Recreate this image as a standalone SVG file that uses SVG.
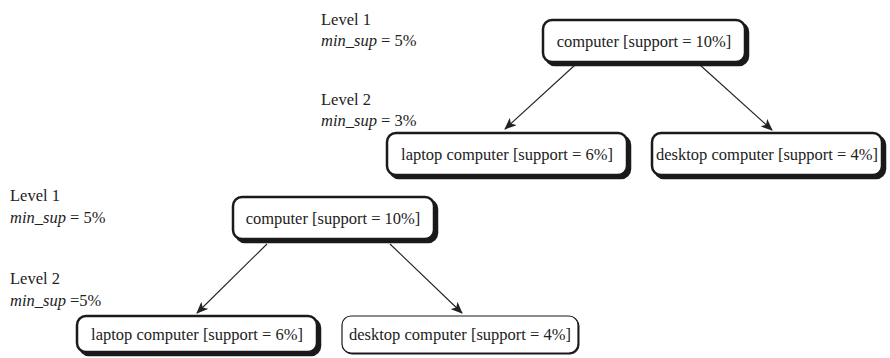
<svg xmlns="http://www.w3.org/2000/svg" width="890" height="358" viewBox="0 0 890 358">
<style>
text{font-family:"Liberation Serif","Times New Roman",serif;font-size:16.5px;fill:#222}
.c{text-anchor:middle}
.i{font-style:italic}
.sh{fill:#1a1a1a;stroke:#1a1a1a;stroke-width:2.5}
.bx{fill:#fff;stroke:#1a1a1a;stroke-width:2.5}
.sht{fill:#1a1a1a;stroke:#1a1a1a;stroke-width:1}
.bxt{fill:#fff;stroke:#1a1a1a;stroke-width:1.2}
.ln{stroke:#222;stroke-width:1.1;fill:none;marker-end:url(#ah)}
</style>
<defs>
<marker id="ah" viewBox="0 0 12 10" refX="11" refY="5" markerWidth="12" markerHeight="10" markerUnits="userSpaceOnUse" orient="auto">
<path d="M0,0 L12,5 L0,10 L3,5 Z" fill="#222"/>
</marker>
</defs>
<g id="labels">
<text x="321" y="25">Level 1</text>
<text x="321" y="46"><tspan class="i">min_sup</tspan> = 5%</text>
<text x="321" y="105">Level 2</text>
<text x="321" y="126"><tspan class="i">min_sup</tspan> = 3%</text>
<text x="10" y="201">Level 1</text>
<text x="10" y="223"><tspan class="i">min_sup</tspan> = 5%</text>
<text x="10" y="284">Level 2</text>
<text x="10" y="306"><tspan class="i">min_sup</tspan> =5%</text>
</g>
<g id="connectors">
<line class="ln" x1="575" y1="65" x2="505" y2="129"/>
<line class="ln" x1="700" y1="65" x2="772" y2="130"/>
<line class="ln" x1="267" y1="244" x2="197" y2="313"/>
<line class="ln" x1="390" y1="244" x2="462" y2="313"/>
</g>
<g id="top-computer">
<rect class="sh" x="546" y="23" width="202" height="42" rx="9"/>
<rect class="bx" x="543" y="20" width="202" height="42" rx="9"/>
<text class="c" x="644" y="47">computer [support = 10%]</text>
</g>
<g id="top-laptop">
<rect class="sh" x="390" y="136" width="240" height="42" rx="9"/>
<rect class="bx" x="387" y="133" width="240" height="42" rx="9"/>
<text class="c" x="507" y="160">laptop computer [support = 6%]</text>
</g>
<g id="top-desktop">
<rect class="sh" x="655" y="136" width="230" height="42" rx="9"/>
<rect class="bx" x="652" y="133" width="230" height="42" rx="9"/>
<text class="c" x="767" y="160">desktop computer [support = 4%]</text>
</g>
<g id="bottom-computer">
<rect class="sh" x="236" y="200" width="201" height="42" rx="9"/>
<rect class="bx" x="233" y="197" width="201" height="42" rx="9"/>
<text class="c" x="333" y="224">computer [support = 10%]</text>
</g>
<g id="bottom-laptop">
<rect class="sh" x="80" y="319" width="240" height="36" rx="9"/>
<rect class="bx" x="77" y="316" width="240" height="36" rx="9"/>
<text class="c" x="197" y="340">laptop computer [support = 6%]</text>
</g>
<g id="bottom-desktop">
<rect class="sht" x="343" y="317" width="236" height="37" rx="9"/>
<rect class="bxt" x="342" y="316" width="236" height="37" rx="9"/>
<text class="c" x="460" y="340">desktop computer [support = 4%]</text>
</g>
</svg>
